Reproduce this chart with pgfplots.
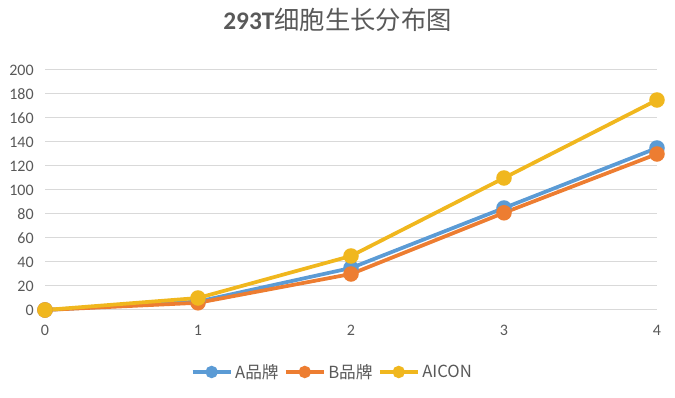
\documentclass[border=0pt]{standalone}
\usepackage{pgfplots}
\pgfplotsset{compat=1.18}
\usepackage{fontspec}
\setmainfont{Carlito}
\newfontfamily\cjk{Noto Sans CJK SC}
\newfontfamily\cjkm{Noto Sans CJK SC Medium}
\definecolor{sA}{HTML}{5B9BD5}
\definecolor{sB}{HTML}{ED7D31}
\definecolor{sC}{HTML}{F0B71E}
\definecolor{txt}{HTML}{595959}
\definecolor{gridc}{HTML}{D9D9D9}
\begin{document}
\begin{tikzpicture}
\useasboundingbox (0pt,0pt) rectangle (506.25pt,298.5pt);
\begin{axis}[
  at={(33.75pt,66pt)}, anchor=south west,
  scale only axis, width=459pt, height=180pt,
  xmin=0, xmax=4, ymin=0, ymax=200,
  xtick={0,1,2,3,4}, ytick={0,20,...,200},
  ymajorgrids, major grid style={gridc, line width=0.75pt},
  axis x line*=bottom, axis y line*=left,
  x axis line style={gridc, line width=0.75pt, -},
  y axis line style={draw=none},
  major tick length=0pt,
  tick label style={font=\fontsize{12}{14}\selectfont, text=txt},
  /pgf/number format/assume math mode=true,
  xticklabel style={yshift=-8pt},
  yticklabel style={xshift=-5pt},
  title={{\bfseries 293T}{\cjk 细胞生长分布图}},
  title style={font=\fontsize{19}{21}\selectfont, text=txt, at={(axis description cs:0.478,1)}, anchor=center, yshift=31.5pt},
  legend style={at={(axis description cs:0.47,0)}, anchor=center, yshift=-46.5pt, draw=none, font=\fontsize{12.5}{14}\selectfont\cjk, text=txt, legend columns=3, /tikz/every even column/.append style={column sep=2pt}},
  legend image code/.code={\draw[#1, mark=none] (0cm,0cm) -- (1.0cm,0cm); \fill[#1] (0.5cm,0cm) circle (3.2pt);},
  every axis plot/.append style={line width=2.8pt, mark=*, mark size=4.4pt},
  clip=false,
]
\addplot[sA, mark options={fill=sA, draw=sA}] coordinates {(0,0) (1,7) (2,35) (3,85) (4,135)};
\addlegendentry{A品牌}
\addplot[sB, mark options={fill=sB, draw=sB}] coordinates {(0,0) (1,6) (2,30) (3,81) (4,130)};
\addlegendentry{B品牌}
\addplot[sC, mark options={fill=sC, draw=sC}] coordinates {(0,0) (1,10) (2,45) (3,110) (4,175)};
\addlegendentry{AICON}
\end{axis}
\end{tikzpicture}
\end{document}
